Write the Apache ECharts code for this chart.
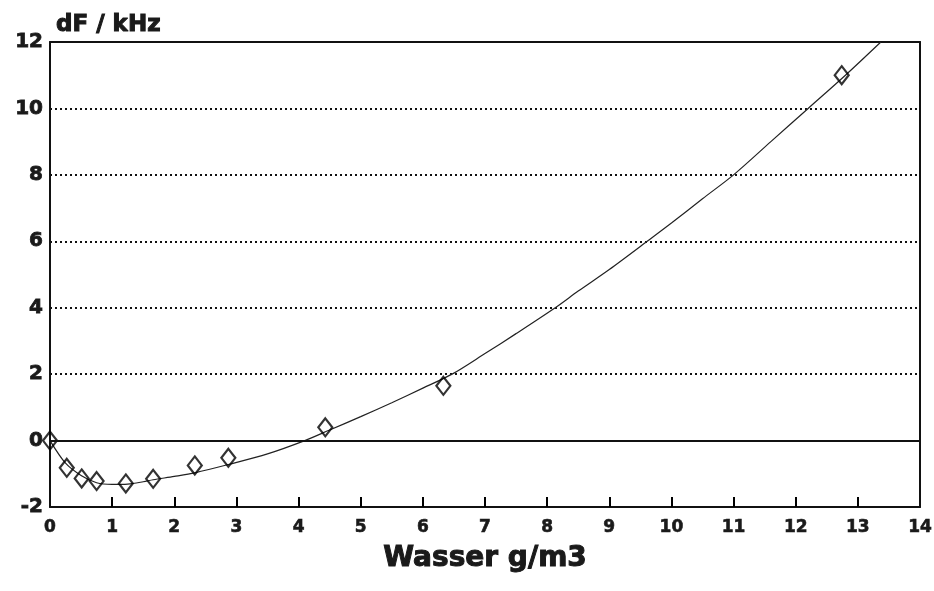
<!DOCTYPE html>
<html>
<head>
<meta charset="utf-8">
<script src="https://cdn.jsdelivr.net/npm/echarts@6/dist/echarts.min.js"></script>
<style>html,body{margin:0;padding:0;background:#fff;}#c{width:934px;height:591px;}</style>
</head>
<body>
<div id="c"></div>
<script>
// Measured points
const wasser = [0, 0.27, 0.51, 0.75, 1.22, 1.66, 2.33, 2.87, 4.43, 6.33, 12.74];
const dF = [0, -0.82, -1.14, -1.22, -1.29, -1.15, -0.75, -0.52, 0.40, 1.65, 11.0];
// Fitted curve
const fitX = [0, 0.25, 0.5, 0.75, 1.0, 1.25, 1.5, 1.66, 2.0, 2.33, 2.87, 3.5, 4.1, 4.5, 5.0, 5.5, 6.0, 6.47, 7.0, 7.5, 8.13, 8.5, 9.0, 9.61, 10.0, 10.5, 11.0, 11.6, 12.2, 12.8, 13.37];
const fitY = [0, -0.68, -1.05, -1.27, -1.32, -1.31, -1.24, -1.18, -1.08, -0.97, -0.72, -0.40, 0, 0.32, 0.72, 1.14, 1.58, 2.0, 2.62, 3.22, 4.0, 4.5, 5.15, 6.0, 6.55, 7.28, 8.0, 9.0, 10.0, 11.0, 12.0];
const xTicks = [0,1,2,3,4,5,6,7,8,9,10,11,12,13,14];
const yTicks = [-2,0,2,4,6,8,10,12];

const chart = echarts.init(document.getElementById('c'));
const F = 'DejaVu Sans';
const C = '#1a1a1a';
const xMin = xTicks[0], xMax = xTicks[xTicks.length-1];
const yMin = yTicks[0], yMax = yTicks[yTicks.length-1];
const tickLen = 0.3; // in y units (about 10 px)
const frame = {show: true, onZero: false, lineStyle: {color: '#111', width: 2}};
const tickMarks = xTicks.slice(1, -1).map(x => [{coord: [x, yMin]}, {coord: [x, yMin + tickLen]}]);
chart.setOption({
  animation: false,
  backgroundColor: '#fff',
  title: {
    text: 'dF / kHz', left: 51, top: 9,
    textStyle: {fontFamily: F, fontWeight: 'bold', fontSize: 23, color: C, textBorderColor: C, textBorderWidth: 1}
  },
  grid: {left: 50, right: 14, top: 42, bottom: 84, containLabel: false, outerBoundsMode: 'none', show: false},
  xAxis: [{
    type: 'value', position: 'bottom', min: xMin, max: xMax, interval: 1,
    name: 'Wasser g/m3', nameLocation: 'middle', nameGap: 38,
    nameTextStyle: {fontFamily: F, fontWeight: 'bold', fontSize: 28, color: C, textBorderColor: C, textBorderWidth: 1},
    axisLine: frame,
    axisTick: {show: false},
    axisLabel: {fontFamily: F, fontWeight: 'bold', fontSize: 17, color: C, margin: 12, textBorderColor: C, textBorderWidth: 0.6},
    splitLine: {show: false}
  }, {
    type: 'value', position: 'top', min: xMin, max: xMax, interval: 1,
    axisLine: frame, axisTick: {show: false}, axisLabel: {show: false}, splitLine: {show: false}
  }],
  yAxis: [{
    type: 'value', position: 'left', min: yMin, max: yMax, interval: 2,
    axisLine: frame,
    axisTick: {show: false},
    axisLabel: {fontFamily: F, fontWeight: 'bold', fontSize: 20, color: C, margin: 7, textBorderColor: C, textBorderWidth: 0.8},
    splitLine: {show: true, lineStyle: {color: '#111', width: 2, type: [2, 3]}}
  }, {
    type: 'value', position: 'right', min: yMin, max: yMax, interval: 2,
    axisLine: frame, axisTick: {show: false}, axisLabel: {show: false}, splitLine: {show: false}
  }],
  series: [
    {
      type: 'line', data: fitX.map((x, i) => [x, fitY[i]]), smooth: 0.3, showSymbol: false,
      lineStyle: {color: '#222', width: 1.2}, z: 2,
      markLine: {
        silent: true, symbol: ['none', 'none'], label: {show: false},
        lineStyle: {color: '#111', width: 2, type: 'solid'},
        data: [{yAxis: 0}]
      }
    },
    {
      type: 'scatter', data: wasser.map((x, i) => [x, dF[i]]), symbol: 'diamond', symbolSize: [14, 18],
      itemStyle: {color: 'rgba(255,255,255,0)', borderColor: '#000', borderWidth: 2.2}, z: 3,
      markLine: {
        silent: true, symbol: ['none', 'none'], label: {show: false},
        lineStyle: {color: '#000', width: 2, type: 'solid'},
        data: tickMarks
      }
    }
  ]
});
</script>
</body>
</html>
